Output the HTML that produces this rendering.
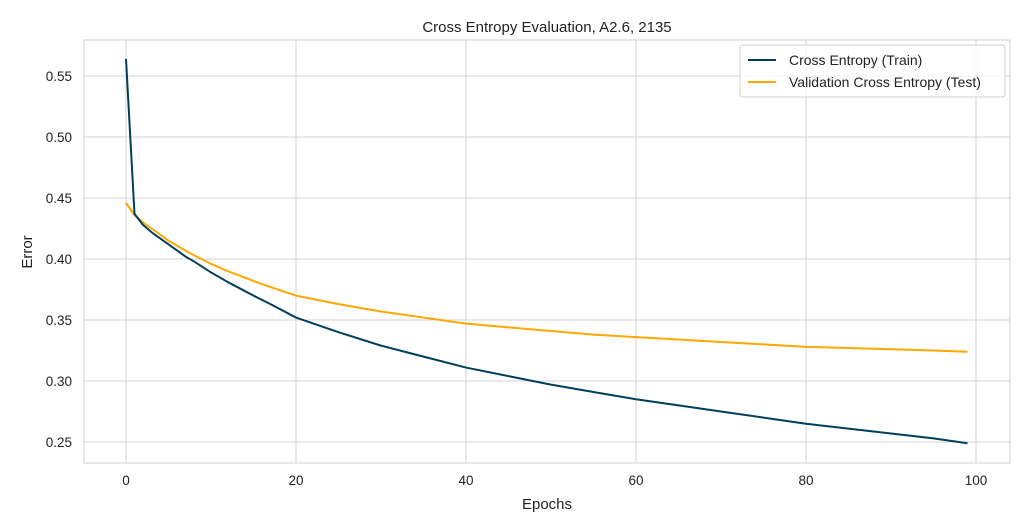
<!DOCTYPE html>
<html><head><meta charset="utf-8"><style>
html,body{margin:0;padding:0;background:#fff;}
svg{display:block;font-family:"Liberation Sans","DejaVu Sans",sans-serif;}
</style></head><body>
<svg id="chart" width="1031" height="531">
<rect x="84" y="40" width="926" height="423" fill="#fff" stroke="#d0d0d0" stroke-width="1"/>
<g id="grid"></g><g id="ticks"></g><g id="series"></g>
<text x="547" y="32" text-anchor="middle" font-size="15" fill="#222">Cross Entropy Evaluation, A2.6, 2135</text>
<text x="547" y="509" text-anchor="middle" font-size="15" fill="#222">Epochs</text>
<text x="32" y="252" text-anchor="middle" font-size="15" fill="#222" transform="rotate(-90 32 252)">Error</text>
<g>
<rect x="740" y="45" width="265" height="52" rx="3" fill="#fff" fill-opacity="0.8" stroke="#d0d0d0"/>
<g><line x1="748" y1="60" x2="776" y2="60" stroke="#003f5c" stroke-width="2"/><text x="789" y="65" font-size="14" fill="#222">Cross Entropy (Train)</text></g>
<g><line x1="748" y1="82" x2="776" y2="82" stroke="#ffa600" stroke-width="2"/><text x="789" y="87" font-size="14" fill="#222">Validation Cross Entropy (Test)</text></g>
</g>
</svg>
<script>
const epochs = [0,1,2,3,4,5,6,7,8,10,12,15,17,20,25,30,35,40,45,50,55,60,65,70,75,80,85,90,95,99];
const trainLoss = [0.564,0.437,0.428,0.422,0.417,0.412,0.407,0.402,0.398,0.389,0.381,0.370,0.363,0.352,0.340,0.329,0.320,0.311,0.304,0.297,0.291,0.285,0.280,0.275,0.270,0.265,0.261,0.257,0.253,0.249];
const testLoss = [0.446,0.436,0.430,0.425,0.420,0.415,0.411,0.407,0.403,0.396,0.390,0.382,0.377,0.370,0.363,0.357,0.352,0.347,0.344,0.341,0.338,0.336,0.334,0.332,0.330,0.328,0.327,0.326,0.325,0.324];
const xTicks = [0,20,40,60,80,100];
const yTicks = [0.25,0.30,0.35,0.40,0.45,0.50,0.55];
const NS="http://www.w3.org/2000/svg";
const xs = v => 126 + v*8.5;
const ys = v => 442 - (v-0.25)*1220;
const grid=document.getElementById('grid'), ticks=document.getElementById('ticks'), series=document.getElementById('series');
function mk(tag,attrs,parent){const e=document.createElementNS(NS,tag);for(const k in attrs)e.setAttribute(k,attrs[k]);parent.appendChild(e);return e;}
xTicks.forEach(t=>{
  const l=mk('line',{x1:xs(t),x2:xs(t),y1:40,y2:463,stroke:'#d3d3d3','stroke-width':1},grid);
  
  
  const tx=mk('text',{x:xs(t),y:485,'text-anchor':'middle','font-size':13.5,fill:'#222'},ticks);
  tx.textContent=t;
  
  
});
yTicks.forEach(t=>{
  const l=mk('line',{x1:84,x2:1010,y1:ys(t),y2:ys(t),stroke:'#d3d3d3','stroke-width':1},grid);
  
  
  const tx=mk('text',{x:72,y:ys(t)+5,'text-anchor':'end','font-size':13.5,fill:'#222'},ticks);
  tx.textContent=t.toFixed(2);
  
  
});
function line(vals,color,name){
  const p=mk('polyline',{points:epochs.map((e,i)=>xs(e)+','+ys(vals[i])).join(' '),fill:'none',stroke:color,'stroke-width':2,'stroke-linejoin':'round'},series);
  
  
}
line(testLoss,'#ffa600','test-loss-line');
line(trainLoss,'#003f5c','train-loss-line');
</script>
</body></html>
